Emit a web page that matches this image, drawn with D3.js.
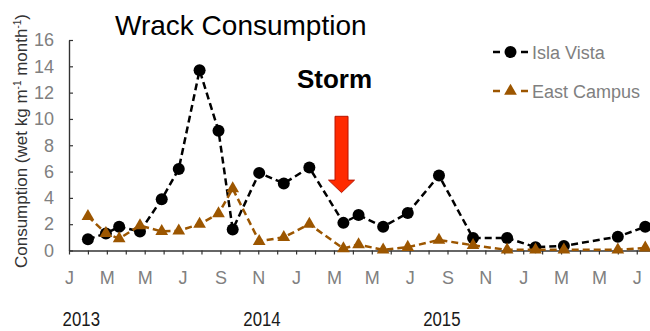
<!DOCTYPE html>
<html>
<head>
<meta charset="utf-8">
<style>
  body { margin: 0; background: #fff; }
  svg text { font-family: "Liberation Sans", Arial, sans-serif; }
</style>
</head>
<body>
<script src="https://cdn.jsdelivr.net/npm/d3@7"></script>
<script>
// months counted from Jan 2013 (0 = J 2013)
var sampleMonth = [1.0, 1.95, 2.65, 3.75, 4.9, 5.8, 6.9, 7.9, 8.65, 10.05, 11.35, 12.7,
                   14.5, 15.3, 16.6, 17.9, 19.55, 21.35, 23.15, 24.65, 26.15, 29.0, 30.45];
var islaVista   = [0.85, 1.3, 1.8, 1.45, 3.9, 6.2, 13.7, 9.1, 1.6, 5.9, 5.1, 6.3,
                   2.1, 2.7, 1.8, 2.85, 5.7, 0.95, 0.95, 0.25, 0.35, 1.05, 1.8];
var eastCampus  = [2.6, 1.3, 0.9, 1.9, 1.45, 1.5, 2.0, 2.8, 4.7, 0.7, 1.0, 2.0,
                   0.15, 0.45, 0.05, 0.25, 0.8, 0.4, 0.05, 0.05, 0.05, 0.05, 0.2];
var monthLabels = ["J","M","M","J","S","N","J","M","M","J","S","N","J","M","M","J"];
var yearLabels  = ["2013", "2014", "2015"];
var yearMonth   = [0.65, 10.2, 19.7];
var yTicks      = [0, 2, 4, 6, 8, 10, 12, 14, 16];
var stormMonth  = 14.4;

var w = 650, h = 331;
var ivColor = "#000000", ecColor = "#9c5600";

var svg = d3.select("body").append("svg")
  .attr("width", w).attr("height", h);

var x = d3.scaleLinear().domain([0, 30.7]).range([69, 650]);
var y = d3.scaleLinear().domain([0, 16]).range([250.5, 40]);

// title
svg.append("text")
  .attr("x", 115).attr("y", 35)
  .attr("font-size", "28px").attr("fill", "#000")
  .text("Wrack Consumption");

// y axis
var yAxis = svg.append("g")
  .attr("transform", "translate(" + x(0) + ",0)")
  .call(d3.axisLeft(y).tickValues(yTicks).tickSizeInner(-4).tickSizeOuter(0).tickPadding(15));
yAxis.select(".domain").attr("stroke", "#333").attr("stroke-width", 1.4);
yAxis.selectAll(".tick line").attr("stroke", "#333").attr("stroke-width", 1.2);
yAxis.selectAll(".tick text")
  .attr("font-size", "18px").attr("fill", "#808080")
  .attr("font-family", "'Liberation Sans', Arial, sans-serif");

// x axis
var xAxis = svg.append("g")
  .attr("transform", "translate(0," + y(0) + ")")
  .call(d3.axisBottom(x).tickValues(d3.range(0, 31)).tickSizeInner(4).tickSizeOuter(0).tickPadding(17)
    .tickFormat(function(d) { return d % 2 === 0 ? monthLabels[d / 2] : ""; }));
xAxis.select(".domain").attr("stroke", "#333").attr("stroke-width", 1.4);
xAxis.selectAll(".tick line").attr("stroke", "#333").attr("stroke-width", 1.2);
xAxis.selectAll(".tick text")
  .attr("font-size", "18px").attr("fill", "#808080")
  .attr("font-family", "'Liberation Sans', Arial, sans-serif");

// year labels (narrow text boxes)
svg.selectAll("text.year")
  .data(yearLabels)
  .enter().append("text")
  .attr("class", "year")
  .attr("text-anchor", "middle")
  .style("font-size", "21px").attr("fill", "#1a1a1a")
  .attr("transform", function(d, i) {
    return "translate(" + x(yearMonth[i]) + "," + 326 + ") scale(0.8,1)";
  })
  .text(function(d) { return d; });

// y axis title
var yTitle = svg.append("text")
  .attr("transform", "translate(27,141) rotate(-90)")
  .attr("text-anchor", "middle")
  .attr("font-size", "17px").attr("fill", "#333");
yTitle.append("tspan").text("Consumption (wet kg m");
yTitle.append("tspan").attr("font-size", "10px").attr("dy", -6).text("-1");
yTitle.append("tspan").attr("dy", 6).text(" month");
yTitle.append("tspan").attr("font-size", "10px").attr("dy", -6).text("-1");
yTitle.append("tspan").attr("dy", 6).text(")");

// series
var line = d3.line()
  .x(function(d) { return x(d[0]); })
  .y(function(d) { return y(d[1]); });

var ivData = d3.zip(sampleMonth, islaVista);
var ecData = d3.zip(sampleMonth, eastCampus);

svg.append("path")
  .datum(ivData)
  .attr("d", line)
  .attr("fill", "none").attr("stroke", ivColor)
  .attr("stroke-width", 2.5).attr("stroke-dasharray", "7,4");

svg.selectAll("circle.iv")
  .data(ivData)
  .enter().append("circle")
  .attr("class", "iv")
  .attr("cx", function(d) { return x(d[0]); })
  .attr("cy", function(d) { return y(d[1]); })
  .attr("r", 6)
  .attr("fill", ivColor);

svg.append("path")
  .datum(ecData)
  .attr("d", line)
  .attr("fill", "none").attr("stroke", ecColor)
  .attr("stroke-width", 2.5).attr("stroke-dasharray", "7,4");

var tri = d3.symbol().type(d3.symbolTriangle).size(70);
svg.selectAll("path.ec")
  .data(ecData)
  .enter().append("path")
  .attr("class", "ec")
  .attr("d", tri)
  .attr("transform", function(d) { return "translate(" + x(d[0]) + "," + y(d[1]) + ")"; })
  .attr("fill", ecColor);

// storm annotation
var ax = x(stormMonth);
var shaftTop = y(10.2), headTop = y(5.35), tip = y(4.4);
svg.append("path")
  .attr("d", "M" + (ax - 6.5) + "," + shaftTop +
             "L" + (ax + 6.5) + "," + shaftTop +
             "L" + (ax + 6.5) + "," + headTop +
             "L" + (ax + 13) + "," + headTop +
             "L" + ax + "," + tip +
             "L" + (ax - 13) + "," + headTop +
             "L" + (ax - 6.5) + "," + headTop + "Z")
  .attr("fill", "#ff2a00").attr("stroke", "#b81400").attr("stroke-width", 1);

svg.append("text")
  .attr("x", x(stormMonth) - 7).attr("y", 88)
  .attr("text-anchor", "middle")
  .attr("font-size", "26px").attr("font-weight", "bold").attr("fill", "#000")
  .text("Storm");

// legend
var legend = [
  { name: "Isla Vista", color: ivColor, shape: "circle" },
  { name: "East Campus", color: ecColor, shape: "triangle" }
];
var lg = svg.selectAll("g.legend")
  .data(legend)
  .enter().append("g")
  .attr("class", "legend")
  .attr("transform", function(d, i) { return "translate(493," + (52 + i * 39) + ")"; });
lg.append("line")
  .attr("x1", 0).attr("x2", 35).attr("y1", 0).attr("y2", 0)
  .attr("stroke", function(d) { return d.color; })
  .attr("stroke-width", 2.5).attr("stroke-dasharray", "7,7,7");
lg.each(function(d) {
  var g = d3.select(this);
  if (d.shape === "circle") {
    g.append("circle").attr("cx", 17.5).attr("cy", 0).attr("r", 6).attr("fill", d.color);
  } else {
    g.append("path").attr("d", tri).attr("transform", "translate(17.5,0)").attr("fill", d.color);
  }
});
lg.append("text")
  .attr("x", 39).attr("y", 6.5)
  .attr("font-size", "18px").attr("fill", "#808080")
  .text(function(d) { return d.name; });
</script>
</body>
</html>
